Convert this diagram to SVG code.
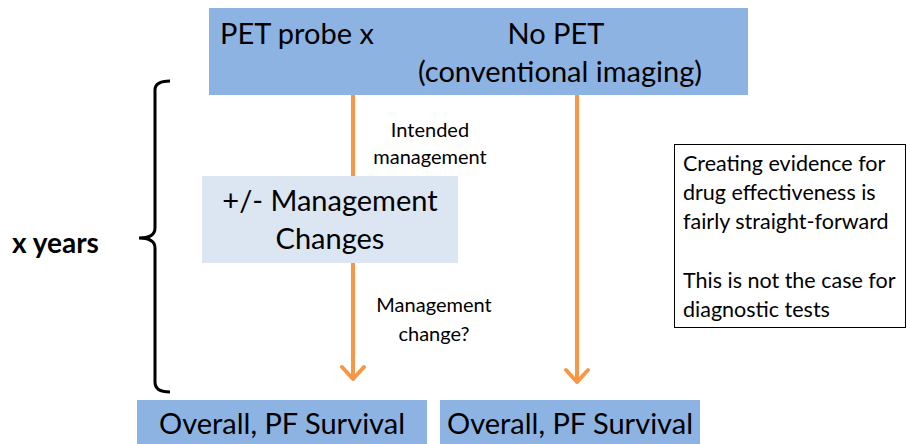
<svg xmlns="http://www.w3.org/2000/svg" width="907" height="444" viewBox="0 0 907 444">
<defs>
<style>
text{font-family:Lato,"Open Sans","Liberation Sans",sans-serif;fill:#000}
.big{font-size:29px}
.mid{font-size:29px}
.sm{font-size:20px}
.note{font-size:21.5px}
.blue{fill:#8db3e2}
.light{fill:#dce6f2}
.conn{stroke:#f79646;stroke-width:4;fill:none}
.head{stroke:#f79646;stroke-width:4;fill:none;stroke-linecap:round;stroke-linejoin:round}
</style>
</defs>
<rect width="907" height="444" fill="#fff"/>
<g id="connectors">
<line class="conn" x1="353" y1="95" x2="353" y2="176"/>
<path class="conn" d="M353,263 L353,379"/>
<path class="head" d="M342,367 L353,379 L364,367"/>
<path class="conn" d="M577,95 L577,382"/>
<path class="head" d="M566,370 L577,382 L588,370"/>
<text class="sm" x="430" y="137" text-anchor="middle">Intended</text>
<text class="sm" x="430" y="164" text-anchor="middle">management</text>
<text class="sm" x="434" y="312" text-anchor="middle">Management</text>
<text class="sm" x="434" y="341" text-anchor="middle">change?</text>
</g>
<g id="top">
<rect class="blue" x="209" y="8" width="539" height="87"/>
<text class="big" x="220" y="44">PET probe x</text>
<text class="big" x="556" y="44" text-anchor="middle">No PET</text>
<text class="big" x="560" y="82" text-anchor="middle">(conventional imaging)</text>
</g>
<g id="mgmt">
<rect class="light" x="202" y="176" width="256" height="87"/>
<text class="mid" x="330" y="211" text-anchor="middle">+/- Management</text>
<text class="mid" x="330" y="249" text-anchor="middle">Changes</text>
</g>
<g id="out1">
<rect class="blue" x="137" y="400" width="290" height="44"/>
<text class="big" x="282" y="434" text-anchor="middle">Overall, PF Survival</text>
</g>
<g id="out2">
<rect class="blue" x="440" y="400" width="260" height="44"/>
<text class="big" x="570" y="434" text-anchor="middle">Overall, PF Survival</text>
</g>
<g id="note">
<rect x="674.5" y="144.5" width="231" height="183" fill="#fff" stroke="#000" stroke-width="1"/>
<text class="note" x="683" y="171">Creating evidence for</text>
<text class="note" x="683" y="200">drug effectiveness is</text>
<text class="note" x="683" y="229">fairly straight-forward</text>
<text class="note" x="683" y="288">This is not the case for</text>
<text class="note" x="683" y="317">diagnostic tests</text>
</g>
<g id="brace">
<path d="M170,81 Q155,81 155,90 L155,228 Q155,238 139,238 Q155,238 155,248 L155,382 Q155,392 170,392" fill="none" stroke="#000" stroke-width="3"/>
<text x="12" y="253" font-size="28" font-weight="bold">x years</text>
</g>
</svg>
